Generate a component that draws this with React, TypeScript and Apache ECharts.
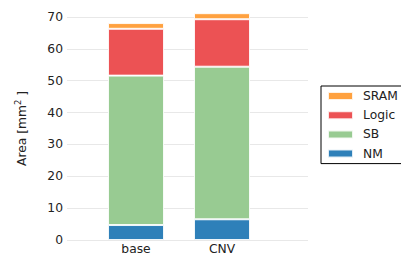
import React, { useEffect, useRef } from "react";
import * as echarts from "echarts";

const categories = ["base", "CNV"];
const nmValues = [4.7, 6.5];
const sbValues = [46.9, 47.9];
const logicValues = [14.7, 14.9];
const sramValues = [1.8, 1.9];
const legendOrder = ["SRAM", "Logic", "SB", "NM"];

const FONT = "DejaVu Sans";
const FS = 12.3;

export default function App() {
  const ref = useRef<HTMLDivElement>(null);
  useEffect(() => {
    if (!ref.current) return;
    const chart = echarts.init(ref.current, undefined, { renderer: "svg" });
    const mk = (name: string, vals: number[], color: string) => ({
      name,
      type: "bar",
      stack: "total",
      barWidth: 56,
      clip: false,
      xAxisIndex: 1,
      yAxisIndex: 1,
      data: vals,
      itemStyle: { color, borderColor: "rgba(255,255,255,0.85)", borderWidth: 1 },
    });
    chart.setOption({
      animation: false,
      backgroundColor: "#ffffff",
      textStyle: { fontFamily: FONT },
      grid: [
        { left: 67, right: 93, top: 17, bottom: 17, containLabel: false },
        { left: 93, right: 136, top: 17, bottom: 17, containLabel: false },
      ],
      legend: {
        data: legendOrder,
        orient: "vertical",
        left: 321,
        top: 86,
        padding: [4, 6, 4, 6],
        borderColor: "#000000",
        borderWidth: 1,
        borderRadius: 0,
        backgroundColor: "#ffffff",
        itemWidth: 25,
        itemHeight: 8,
        itemGap: 7.2,
        icon: "rect",
        textStyle: { fontSize: FS, color: "#222222", fontFamily: FONT, padding: [0, 0, 0, 5] },
      },
      xAxis: [
        {
          gridIndex: 0,
          type: "value",
          min: 0,
          max: 1,
          show: false,
        },
        {
          gridIndex: 1,
          type: "category",
          data: categories,
          boundaryGap: true,
          axisLine: { show: false },
          axisTick: { show: false },
          splitLine: { show: false },
          axisLabel: { fontSize: FS, color: "#222222", fontFamily: FONT, margin: 3 },
        },
      ],
      yAxis: [
        {
          gridIndex: 0,
          type: "value",
          min: 0,
          max: 70,
          interval: 10,
          name: "Area [mm{sup|2} ]",
          nameLocation: "middle",
          nameGap: 36,
          nameRotate: 90,
          nameTextStyle: {
            fontSize: FS,
            color: "#222222",
            fontFamily: FONT,
            rich: {
              sup: {
                fontSize: 8.5,
                color: "#222222",
                fontFamily: FONT,
                padding: [0, 0, 9, 0],
              },
            },
          },
          axisLine: { show: false },
          axisTick: { show: false },
          axisLabel: { fontSize: FS, color: "#222222", fontFamily: FONT, margin: 4 },
          splitLine: { lineStyle: { color: "#e8e8e8", width: 1.2 } },
        },
        {
          gridIndex: 1,
          type: "value",
          min: 0,
          max: 70,
          interval: 10,
          show: false,
          splitLine: { show: false },
        },
      ],
      series: [
        mk("NM", nmValues, "#2E80B9"),
        mk("SB", sbValues, "#98CB92"),
        mk("Logic", logicValues, "#EC5254"),
        mk("SRAM", sramValues, "#FFA13F"),
      ],
    });
    return () => chart.dispose();
  }, []);
  return (
    <div
      ref={ref}
      style={{ position: "fixed", left: 0, top: 0, width: 401, height: 257 }}
    />
  );
}
